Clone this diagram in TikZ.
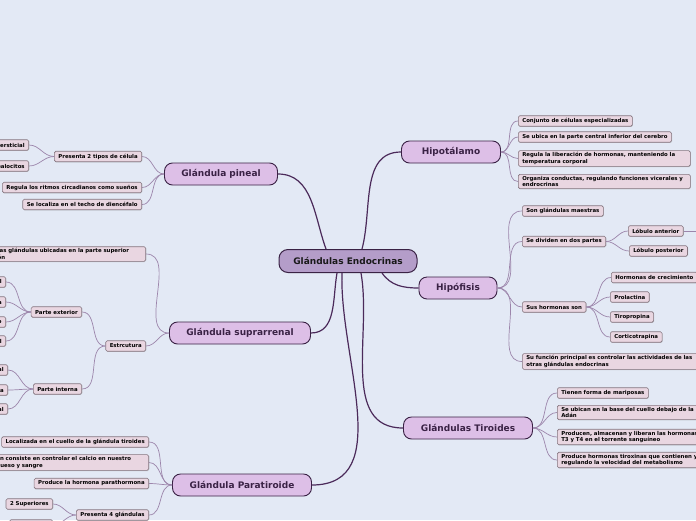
\documentclass[tikz,border=0pt]{standalone}
\usepackage{fontspec}
\setmainfont{DejaVu Sans}
\usetikzlibrary{shadows}
\definecolor{fondo}{HTML}{E3E9F5}
\definecolor{centro}{HTML}{B49DC9}
\definecolor{ramafill}{HTML}{DDBFE7}
\definecolor{hojafill}{HTML}{E9D6E1}
\definecolor{lineaosc}{HTML}{4B2A5A}
\definecolor{linea}{HTML}{9C85AB}
\definecolor{borde}{HTML}{3A2245}
\definecolor{hojaborde}{HTML}{85757F}

\begin{document}
\begin{tikzpicture}[x=1pt,y=1pt,
    raiz/.style={draw=borde, line width=1pt, fill=centro, rounded corners=9pt, minimum height=23pt,
      font=\fontsize{9}{11}\selectfont\bfseries, text=black!90},
    rama/.style={draw=borde, line width=0.9pt, fill=ramafill, rounded corners=8pt, minimum height=22pt,
      font=\fontsize{9}{11}\selectfont\bfseries, text=borde},
    hoja/.style={draw=hojaborde, line width=0.6pt, fill=hojafill, rounded corners=1.5pt, inner xsep=4pt,
      inner ysep=1.8pt, minimum height=10.5pt, align=left, font=\fontsize{5.4}{6.6}\selectfont\bfseries,
      drop shadow={shadow xshift=0.5pt, shadow yshift=-0.7pt, opacity=0.35}},
    grueso/.style={draw=lineaosc, line width=1.2pt},
    fino/.style={draw=linea, line width=0.7pt}]
  \useasboundingbox (0,0) rectangle (696,-520);
  \fill[fondo] (0,0) rectangle (696,-520);

  % centro y ramas principales
  \node[raiz, minimum width=138pt] (ge) at (348,-261) {Glándulas Endocrinas};
  \node[rama, minimum width=99pt] (hipo) at (451,-152) {Hipotálamo};
  \node[rama, minimum width=78pt] (hipof) at (458,-288) {Hipófisis};
  \node[rama, minimum width=129pt] (tir) at (468,-428) {Glándulas Tiroides};
  \node[rama, minimum width=113pt] (pin) at (221,-174) {Glándula pineal};
  \node[rama, minimum width=141pt] (sup) at (240,-333) {Glándula suprarrenal};
  \node[rama, minimum width=139pt] (par) at (242,-485) {Glándula Paratiroide};

  % Hipotalamo
  \node[hoja, anchor=west] (h1) at (518,-121) {Conjunto de células especializadas};
  \node[hoja, anchor=west] (h2) at (518,-137) {Se ubica en la parte central inferior del cerebro};
  \node[hoja, anchor=west, text width=164pt] (h3) at (518,-158.5) {Regula la liberación de hormonas, manteniendo la\\temperatura corporal};
  \node[hoja, anchor=west, text width=164pt] (h4) at (518,-181.5) {Organiza conductas, regulando funciones vicerales y\\endrocrinas};

  % Hipofisis
  \node[hoja, anchor=west] (f1) at (522,-211) {Son glándulas maestras};
  \node[hoja, anchor=west] (f2) at (522,-241.5) {Se dividen en dos partes};
  \node[hoja, anchor=west] (f3) at (522,-307) {Sus hormonas son};
  \node[hoja, anchor=west, text width=190pt] (f4) at (522,-361.5) {Su función principal es controlar las actividades de las\\otras glándulas endocrinas};
  \node[hoja, anchor=west] (lant) at (628,-231) {Lóbulo anterior};
  \node[hoja, anchor=west] (lpos) at (629,-251) {Lóbulo posterior};
  \coordinate (lsig) at (700,-231);
  \node[hoja, anchor=west] (c1) at (611,-277.5) {Hormonas de crecimiento};
  \node[hoja, anchor=west] (c2) at (610,-297) {Prolactina};
  \node[hoja, anchor=west] (c3) at (610,-317) {Tiropropina};
  \node[hoja, anchor=west] (c4) at (610,-337) {Corticotrapina};

  % Tiroides
  \node[hoja, anchor=west] (t1) at (557,-393) {Tienen forma de mariposas};
  \node[hoja, anchor=west, text width=150pt] (t2) at (557,-412.5) {Se ubican en la base del cuello debajo de la\\Adán};
  \node[hoja, anchor=west, text width=150pt] (t3) at (557,-437) {Producen, almacenan y liberan las hormonas\\T3 y T4 en el torrente sanguíneo};
  \node[hoja, anchor=west, text width=150pt] (t4) at (557,-460) {Produce hormonas tiroxinas que contienen y\\regulando la velocidad del metabolismo};

  % Pineal
  \node[hoja, anchor=east] (p1) at (142,-156.5) {Presenta 2 tipos de célula};
  \node[hoja, anchor=east] (p1a) at (29,-145) {Intersticial};
  \node[hoja, anchor=east] (p1b) at (29,-166) {Pinealocitos};
  \node[hoja, anchor=east] (p2) at (142,-187.5) {Regula los ritmos circadianos como sueños};
  \node[hoja, anchor=east] (p3) at (142,-204.5) {Se localiza en el techo de diencéfalo};

  % Suprarrenal
  \node[hoja, anchor=east, text width=178pt] (s1) at (146,-254) {Son pequeñas glándulas ubicadas en la parte superior\\de cada riñón};
  \node[hoja, anchor=east] (s2) at (146,-346) {Estrcutura};
  \node[hoja, anchor=east] (sext) at (82,-312) {Parte exterior};
  \node[hoja, anchor=east] (sint) at (82,-389) {Parte interna};
  \node[hoja, anchor=east] (e1) at (6,-282) {Corteza suprarrenal};
  \node[hoja, anchor=east] (e2) at (6,-302) {Aldosterona};
  \node[hoja, anchor=east] (e3) at (6,-322) {Andrógeno};
  \node[hoja, anchor=east] (e4) at (6,-341) {Cortisol};
  \node[hoja, anchor=east] (i1) at (8,-370) {Médula suprarrenal};
  \node[hoja, anchor=east] (i2) at (8,-390) {Adrenalina};
  \node[hoja, anchor=east] (i3) at (8,-409) {Sistema nervioso central};

  % Paratiroide
  \node[hoja, anchor=east] (r1) at (149,-442) {Localizada en el cuello de la glándula tiroides};
  \node[hoja, anchor=east, text width=173pt] (r2) at (149,-462.5) {Su función consiste en controlar el calcio en nuestro\\cuerpo, hueso y sangre};
  \node[hoja, anchor=east] (r3) at (149,-483.5) {Produce la hormona parathormona};
  \node[hoja, anchor=east] (r4) at (149,-515) {Presenta 4 glándulas};
  \node[hoja, anchor=east] (r4a) at (53,-504) {2 Superiores};
  \node[hoja, anchor=east] (r4b) at (53,-525) {2 Inferiores};

  % conectores principales
  \draw[grueso] ([xshift=-22pt]ge.north) to[out=110,in=0] (pin.east);
  \draw[grueso] ([xshift=14pt]ge.north) to[out=75,in=180] (hipo.west);
  \draw[grueso] ([xshift=34pt]ge.south) to[out=-55,in=180] (hipof.west);
  \draw[grueso] ([xshift=13pt]ge.south) to[out=-80,in=180] (tir.west);
  \draw[grueso] ([xshift=-11pt]ge.south) to[out=-100,in=0] (sup.east);
  \draw[grueso] ([xshift=-6pt]ge.south) to[out=-92,in=0] (par.east);

  % conectores secundarios
  \draw[fino] (hipo.east) to[out=0,in=180] (h1.west);
  \draw[fino] (hipo.east) to[out=0,in=180] (h2.west);
  \draw[fino] (hipo.east) to[out=0,in=180] (h3.west);
  \draw[fino] (hipo.east) to[out=0,in=180] (h4.west);
  \draw[fino] (hipof.east) to[out=0,in=180] (f1.west);
  \draw[fino] (hipof.east) to[out=0,in=180] (f2.west);
  \draw[fino] (hipof.east) to[out=0,in=180] (f3.west);
  \draw[fino] (hipof.east) to[out=0,in=180] (f4.west);
  \draw[fino] (f2.east) to[out=0,in=180] (lant.west);
  \draw[fino] (f2.east) to[out=0,in=180] (lpos.west);
  \draw[fino] (lant.east) -- (lsig);
  \draw[fino] (f3.east) to[out=0,in=180] (c1.west);
  \draw[fino] (f3.east) to[out=0,in=180] (c2.west);
  \draw[fino] (f3.east) to[out=0,in=180] (c3.west);
  \draw[fino] (f3.east) to[out=0,in=180] (c4.west);
  \draw[fino] (tir.east) to[out=0,in=180] (t1.west);
  \draw[fino] (tir.east) to[out=0,in=180] (t2.west);
  \draw[fino] (tir.east) to[out=0,in=180] (t3.west);
  \draw[fino] (tir.east) to[out=0,in=180] (t4.west);
  \draw[fino] (pin.west) to[out=180,in=0] (p1.east);
  \draw[fino] (pin.west) to[out=180,in=0] (p2.east);
  \draw[fino] (pin.west) to[out=180,in=0] (p3.east);
  \draw[fino] (p1.west) to[out=180,in=0] (p1a.east);
  \draw[fino] (p1.west) to[out=180,in=0] (p1b.east);
  \draw[fino] (sup.west) to[out=180,in=0] (s1.east);
  \draw[fino] (sup.west) to[out=180,in=0] (s2.east);
  \draw[fino] (s2.west) to[out=180,in=0] (sext.east);
  \draw[fino] (s2.west) to[out=180,in=0] (sint.east);
  \draw[fino] (sext.west) to[out=180,in=0] (e1.east);
  \draw[fino] (sext.west) to[out=180,in=0] (e2.east);
  \draw[fino] (sext.west) to[out=180,in=0] (e3.east);
  \draw[fino] (sext.west) to[out=180,in=0] (e4.east);
  \draw[fino] (sint.west) to[out=180,in=0] (i1.east);
  \draw[fino] (sint.west) to[out=180,in=0] (i2.east);
  \draw[fino] (sint.west) to[out=180,in=0] (i3.east);
  \draw[fino] (par.west) to[out=180,in=0] (r1.east);
  \draw[fino] (par.west) to[out=180,in=0] (r2.east);
  \draw[fino] (par.west) to[out=180,in=0] (r3.east);
  \draw[fino] (par.west) to[out=180,in=0] (r4.east);
  \draw[fino] (r4.west) to[out=180,in=0] (r4a.east);
  \draw[fino] (r4.west) to[out=180,in=0] (r4b.east);
\end{tikzpicture}
\end{document}
